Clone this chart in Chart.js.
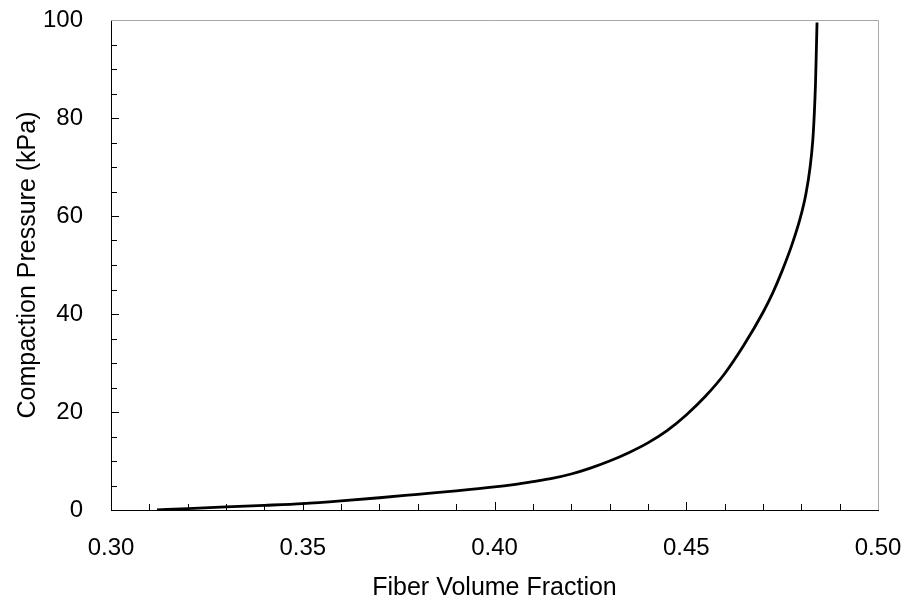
<!DOCTYPE html>
<html>
<head>
<meta charset="utf-8">
<script src="https://cdn.jsdelivr.net/npm/chart.js@4"></script>
<style>
  html, body { margin: 0; padding: 0; background: #fff; }
  #wrap { width: 906px; height: 600px; }
</style>
</head>
<body>
<div id="wrap"><canvas id="compactionChart" width="906" height="600"></canvas></div>
<script>
// Data
const fiberFraction = [
  0.312, 0.320, 0.330, 0.340, 0.350, 0.360, 0.370, 0.380, 0.390, 0.400,
  0.405, 0.410, 0.415, 0.420, 0.425, 0.430, 0.435, 0.440, 0.445, 0.450,
  0.455, 0.460, 0.465, 0.470, 0.4725, 0.475, 0.4775, 0.4797, 0.4812, 0.4823,
  0.4830, 0.4834, 0.4837, 0.4839, 0.4841,
];
const pressure = [
  0, 0.3, 0.65, 0.95, 1.3, 1.85, 2.5, 3.2, 3.9, 4.7,
  5.2, 5.8, 6.45, 7.35, 8.55, 10.0, 11.7, 13.7, 16.2, 19.4,
  23.2, 27.8, 33.6, 40.3, 44.2, 48.8, 54.0, 59.5, 64.5, 70.0,
  75.5, 81.0, 87.0, 93.0, 99.5,
];

const xMajorTicks = [0.30, 0.35, 0.40, 0.45, 0.50];
const yMajorTicks = [0, 20, 40, 60, 80, 100];

const FONT = "'Liberation Sans', Arial, sans-serif";

// Inward tick marks plus grey top/right frame
const frameTicks = {
  id: "frameTicks",
  afterDraw(chart) {
    const ctx = chart.ctx;
    const area = chart.chartArea;
    const xs = chart.scales.x;
    const ys = chart.scales.y;
    ctx.save();
    ctx.lineWidth = 1;
    ctx.strokeStyle = "#000";
    ctx.beginPath();
    for (let i = 0; i <= 20; i++) {
      const v = 0.30 + i * 0.01;
      const px = Math.round(xs.getPixelForValue(v)) + 0.5;
      const len = i % 5 === 0 ? 8 : 6;
      ctx.moveTo(px, area.bottom);
      ctx.lineTo(px, area.bottom - len);
    }
    for (let i = 0; i <= 20; i++) {
      const v = i * 5;
      const py = Math.round(ys.getPixelForValue(v)) + 0.5;
      const len = i % 4 === 0 ? 8 : 6;
      ctx.moveTo(area.left, py);
      ctx.lineTo(area.left + len, py);
    }
    ctx.stroke();
    ctx.strokeStyle = "#a8a8a8";
    ctx.beginPath();
    ctx.moveTo(area.left, Math.round(area.top) + 0.5);
    ctx.lineTo(Math.round(area.right) + 0.5, Math.round(area.top) + 0.5);
    ctx.lineTo(Math.round(area.right) + 0.5, area.bottom);
    ctx.stroke();
    ctx.restore();
  },
};

const compactionChart = new Chart(document.getElementById("compactionChart"), {
  type: "scatter",
  data: {
    datasets: [
      {
        data: fiberFraction.map((x, i) => ({ x: x, y: pressure[i] })),
        showLine: true,
        borderColor: "#000",
        borderWidth: 2.8,
        pointRadius: 0,
        cubicInterpolationMode: "monotone",
        fill: false,
      },
    ],
  },
  options: {
    responsive: false,
    animation: false,
    layout: {
      padding: { left: 0, right: 28, top: 20, bottom: 0 },
    },
    plugins: {
      legend: { display: false },
      tooltip: { enabled: false },
    },
    scales: {
      x: {
        type: "linear",
        min: 0.30,
        max: 0.50,
        afterBuildTicks: function (scale) {
          scale.ticks = xMajorTicks.map((v) => ({ value: v }));
        },
        afterFit: function (scale) {
          scale.height = 90;
          // labels overhang is handled by the layout padding
          scale.paddingLeft = 0;
          scale.paddingRight = 0;
        },
        grid: { display: false },
        border: { display: true, color: "#000", width: 1 },
        ticks: {
          padding: 16,
          color: "#000",
          font: { family: FONT, size: 24 },
          maxRotation: 0,
          callback: function (value) {
            return value.toFixed(2);
          },
        },
        title: {
          display: true,
          text: "Fiber Volume Fraction",
          color: "#000",
          font: { family: FONT, size: 25 },
          padding: { top: 0, bottom: -3 },
        },
      },
      y: {
        type: "linear",
        min: 0,
        max: 100,
        afterBuildTicks: function (scale) {
          scale.ticks = yMajorTicks.map((v) => ({ value: v }));
        },
        afterFit: function (scale) {
          scale.width = 111;
          scale.paddingTop = 0;
          scale.paddingBottom = 0;
        },
        grid: { display: false },
        border: { display: true, color: "#000", width: 1 },
        ticks: {
          padding: 20,
          color: "#000",
          font: { family: FONT, size: 24 },
        },
        title: {
          display: true,
          text: "Compaction Pressure (kPa)",
          color: "#000",
          font: { family: FONT, size: 25 },
          padding: { top: 13, bottom: 0 },
        },
      },
    },
  },
  plugins: [frameTicks],
});
</script>
</body>
</html>
